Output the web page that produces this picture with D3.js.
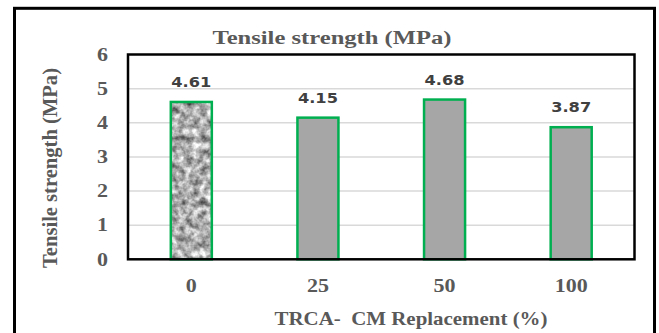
<!DOCTYPE html>
<html>
<head>
<meta charset="utf-8">
<script src="https://cdn.jsdelivr.net/npm/d3@7"></script>
<style>
  body { margin: 0; background: #fff; }
  svg { display: block; }
</style>
</head>
<body>
<svg id="chart"></svg>
<script>
// values
const categories = ["0", "25", "50", "100"];
const strength = [4.61, 4.15, 4.68, 3.87];
const yTicks = [0, 1, 2, 3, 4, 5, 6];

const width = 659;
const height = 333;
const margin = { top: 54.5, right: 24.5, bottom: 73.7, left: 128 };

const svg = d3.select("#chart")
    .attr("width", width)
    .attr("height", height);

// granite-like texture for the first bar
const defs = svg.append("defs");
const grain = defs.append("filter")
    .attr("id", "grain")
    .attr("color-interpolation-filters", "sRGB")
    .attr("x", 0).attr("y", 0).attr("width", 1).attr("height", 1);
grain.append("feTurbulence")
    .attr("type", "fractalNoise")
    .attr("baseFrequency", 0.14)
    .attr("numOctaves", 3)
    .attr("seed", 7)
    .attr("result", "noise");
grain.append("feColorMatrix")
    .attr("in", "noise")
    .attr("type", "matrix")
    .attr("values", "1.1 0 0 0 0.13  1.1 0 0 0 0.13  1.1 0 0 0 0.13  0 0 0 0 1")
    .attr("result", "gray");
grain.append("feComposite")
    .attr("in", "gray")
    .attr("in2", "SourceGraphic")
    .attr("operator", "in");

// outer frame
svg.append("rect")
    .attr("x", 14.5)
    .attr("y", 8.3)
    .attr("width", 640)
    .attr("height", 400)
    .attr("fill", "none")
    .attr("stroke", "#000")
    .attr("stroke-width", 3);

const xScale = d3.scaleBand()
    .domain(categories)
    .range([margin.left, width - margin.right])
    .paddingInner(0.676)
    .paddingOuter(0.338);

const yScale = d3.scaleLinear()
    .domain([0, 6])
    .range([height - margin.bottom, margin.top]);

// gridlines
svg.append("g")
    .selectAll("line")
    .data(yTicks.slice(1, -1))
    .join("line")
    .attr("x1", margin.left)
    .attr("x2", width - margin.right)
    .attr("y1", d => yScale(d))
    .attr("y2", d => yScale(d))
    .attr("stroke", "#d9d9d9")
    .attr("stroke-width", 1.5);

// bars
const bars = svg.append("g");
bars.selectAll("rect.fill")
    .data(strength)
    .join("rect")
    .attr("class", "fill")
    .attr("x", (d, i) => xScale(categories[i]))
    .attr("y", d => yScale(d))
    .attr("width", xScale.bandwidth())
    .attr("height", d => yScale(0) - yScale(d))
    .attr("fill", "#a6a6a6")
    .attr("filter", (d, i) => i === 0 ? "url(#grain)" : null);

bars.selectAll("rect.edge")
    .data(strength)
    .join("rect")
    .attr("class", "edge")
    .attr("x", (d, i) => xScale(categories[i]))
    .attr("y", d => yScale(d))
    .attr("width", xScale.bandwidth())
    .attr("height", d => yScale(0) - yScale(d))
    .attr("fill", "none")
    .attr("stroke", "#00b050")
    .attr("stroke-width", 2.5);

// value labels
svg.append("g")
    .selectAll("text")
    .data(strength)
    .join("text")
    .attr("x", (d, i) => xScale(categories[i]) + xScale.bandwidth() / 2)
    .attr("y", d => yScale(d) - 15)
    .attr("text-anchor", "middle")
    .attr("textLength", 40)
    .attr("lengthAdjust", "spacingAndGlyphs")
    .style("font-family", "'DejaVu Sans', Verdana, sans-serif")
    .style("font-weight", "bold")
    .style("font-size", "14px")
    .style("fill", "#404040")
    .text(d => d.toFixed(2));

// plot frame
svg.append("rect")
    .attr("x", margin.left)
    .attr("y", margin.top)
    .attr("width", width - margin.left - margin.right)
    .attr("height", height - margin.top - margin.bottom)
    .attr("fill", "none")
    .attr("stroke", "#000")
    .attr("stroke-width", 2.5);

// axes (labels only)
const serif = "'Liberation Serif', 'Times New Roman', serif";

const xAxis = svg.append("g")
    .attr("transform", `translate(0, ${height - margin.bottom})`)
    .call(d3.axisBottom(xScale).tickSize(0).tickPadding(20));
xAxis.select(".domain").remove();
xAxis.selectAll("text")
    .attr("textLength", d => d.length * 11)
    .attr("lengthAdjust", "spacingAndGlyphs")
    .style("font-family", serif)
    .style("font-weight", "bold")
    .style("font-size", "18px")
    .style("fill", "#595959");

const yAxis = svg.append("g")
    .attr("transform", `translate(${margin.left}, 0)`)
    .call(d3.axisLeft(yScale).tickValues(yTicks).tickFormat(d3.format("d")).tickSize(0).tickPadding(20));
yAxis.select(".domain").remove();
yAxis.selectAll("text")
    .attr("textLength", 11)
    .attr("lengthAdjust", "spacingAndGlyphs")
    .style("font-family", serif)
    .style("font-weight", "bold")
    .style("font-size", "18px")
    .style("fill", "#595959");

// chart title
svg.append("text")
    .attr("x", 332)
    .attr("y", 44)
    .attr("text-anchor", "middle")
    .attr("textLength", 239)
    .attr("lengthAdjust", "spacingAndGlyphs")
    .style("font-family", serif)
    .style("font-weight", "bold")
    .style("font-size", "18px")
    .style("fill", "#595959")
    .text("Tensile strength (MPa)");

// x-axis title
svg.append("text")
    .attr("x", 411)
    .attr("y", 325)
    .attr("text-anchor", "middle")
    .attr("textLength", 273)
    .attr("lengthAdjust", "spacingAndGlyphs")
    .style("font-family", serif)
    .style("font-weight", "bold")
    .style("font-size", "19px")
    .style("fill", "#595959")
    .text("TRCA-\u00a0 CM Replacement (%)");

// y-axis title
svg.append("text")
    .attr("transform", "translate(57, 168) rotate(-90)")
    .attr("text-anchor", "middle")
    .attr("textLength", 200)
    .attr("lengthAdjust", "spacingAndGlyphs")
    .style("font-family", serif)
    .style("font-weight", "bold")
    .style("font-size", "21px")
    .style("fill", "#595959")
    .text("Tensile strength (MPa)");
</script>
</body>
</html>
